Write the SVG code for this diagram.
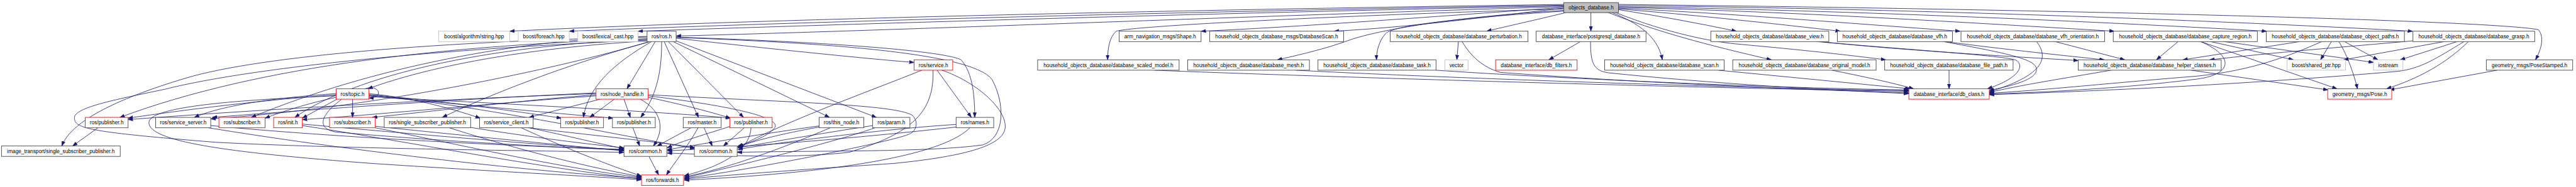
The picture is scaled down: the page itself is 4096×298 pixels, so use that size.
<svg xmlns="http://www.w3.org/2000/svg" width="4096" height="298" viewBox="0 0 4096 298">
<style>
rect{stroke-width:1.5}
.nb rect{fill:#fff;stroke:#404040}
.nr rect{fill:#fff;stroke:#ff0000}
.ng rect{fill:#fff;stroke:#bfbfbf}
.rt rect{fill:#bfbfbf;stroke:#404040}
text{font-family:"Liberation Sans",Arial,Helvetica,sans-serif;font-size:14px;text-anchor:middle;fill:#000}
.e path{fill:none;stroke:#191970;stroke-width:1.4;marker-end:url(#a)}
</style>
<defs>
<marker id="a" markerUnits="userSpaceOnUse" markerWidth="13" markerHeight="10" refX="13" refY="5" orient="auto"><path d="M0,0.5 L13,5 L0,9.5 z" fill="#191970" stroke="#191970" stroke-width="1"/></marker>
</defs>
<rect width="4096" height="298" fill="#fff"/>
<g transform="scale(0.592)">
<g id="edges" class="e">
<path d="M4200,12 C3200,26 2000,52 1369,84"/>
<path d="M4200,14 C3250,30 2150,58 1529,84"/>
<path d="M4200,16 C3300,34 2300,64 1714,84"/>
<path d="M4200,18 C3400,42 2400,82 1816,97"/>
<path d="M4200,20 C3800,48 3500,72 3226,84"/>
<path d="M4200,22 C3950,50 3800,72 3583,84"/>
<path d="M4205,34 C4120,55 4050,70 3993,84"/>
<path d="M4273,34 L4273,84"/>
<path d="M4347,26 C4450,42 4560,62 4664,84"/>
<path d="M4347,24 C4550,40 4750,62 4943,84"/>
<path d="M4347,22 C4650,36 4950,62 5265,84"/>
<path d="M4347,20 C4800,30 5300,62 5679,84"/>
<path d="M4347,18 C5000,28 5700,62 6088,84"/>
<path d="M4347,15 C5200,24 6050,60 6480,84"/>
<path d="M4347,12 C5500,25 6700,55 6818,80 C6835,100 6825,135 6810,161"/>
<path d="M4330,34 C4420,70 4455,110 4465,161"/>
<path d="M4320,34 C4450,85 4580,120 4758,161"/>
<path d="M4340,34 C4480,90 4600,112 4660,118 C4850,135 4980,150 5065,161"/>
<path d="M4200,24 C3700,38 3050,68 2998,84 C2980,100 2975,130 2975,161"/>
<path d="M4200,28 C3900,45 3700,82 3627,107 C3560,132 3480,150 3431,161"/>
<path d="M4200,30 C3900,50 3740,70 3722,90 C3703,110 3697,140 3697,161"/>
<path d="M4245,112 L4160,161"/>
<path d="M4272,112 C4272,170 4280,190 4320,196 C4600,225 4900,242 5127,252"/>
<path d="M3917,112 L3913,161"/>
<path d="M3927,112 C3950,150 3980,180 4030,195 C4400,222 4800,240 5127,250"/>
<path d="M4880,112 C5100,132 5390,150 5415,162 C5440,178 5420,212 5338,239"/>
<path d="M4890,112 C5100,135 5400,152 5582,163"/>
<path d="M5220,112 C5400,145 5470,160 5470,187 C5470,215 5400,232 5343,243"/>
<path d="M5225,112 C5400,135 5550,150 5652,161"/>
<path d="M5470,112 C5500,150 5500,200 5343,247"/>
<path d="M5520,112 L5707,161"/>
<path d="M5235,189 L5235,239"/>
<path d="M5670,189 C5550,210 5420,230 5343,249"/>
<path d="M5885,189 L6253,242"/>
<path d="M5850,112 L5792,161"/>
<path d="M5911,112 C6000,150 6000,200 5900,213 C5700,238 5500,248 5343,253"/>
<path d="M5911,112 L6277,239"/>
<path d="M5937,112 L6160,161"/>
<path d="M5974,112 C6100,130 6250,150 6375,168"/>
<path d="M6177,112 L5863,161"/>
<path d="M6236,112 C6150,150 6050,190 5900,205 C5650,225 5500,242 5343,251"/>
<path d="M6262,112 L6233,161"/>
<path d="M6297,112 L6387,161"/>
<path d="M6282,112 C6300,140 6320,190 6332,239"/>
<path d="M6481,110 C6300,126 6100,142 5935,161"/>
<path d="M6565,112 L6295,161"/>
<path d="M6600,112 L6447,161"/>
<path d="M6618,112 C6540,160 6500,185 6440,192 C6000,230 5600,246 5343,255"/>
<path d="M6630,112 C6570,170 6500,210 6410,239"/>
<path d="M6707,189 L6418,242"/>
<path d="M3100,189 C3500,205 4500,236 5127,246"/>
<path d="M3480,189 C3800,206 4600,236 5127,244"/>
<path d="M3857,189 C4100,206 4700,236 5127,242"/>
<path d="M4615,189 L5130,239"/>
<path d="M4920,189 C5000,205 5080,222 5140,239"/>
<path d="M1738,100 C1200,110 700,150 500,210 C300,270 190,330 166,393"/>
<path d="M1740,104 C1200,122 700,175 322,316"/>
<path d="M1738,98 C1400,105 1000,180 675,316"/>
<path d="M1740,106 C1300,122 950,205 792,316"/>
<path d="M1742,110 C1400,130 1150,180 988,239"/>
<path d="M1745,112 C1500,180 1300,262 1188,316"/>
<path d="M1745,112 C1500,185 1000,292 566,320"/>
<path d="M1750,112 C1650,170 1580,232 1567,316"/>
<path d="M1760,112 L1684,239"/>
<path d="M1777,112 C1778,200 1760,262 1721,316"/>
<path d="M1784,112 L1876,316"/>
<path d="M1795,112 L1997,316"/>
<path d="M1808,112 L2228,316"/>
<path d="M1816,110 L2354,316"/>
<path d="M1816,103 C2100,135 2350,160 2455,168"/>
<path d="M1816,100 C2200,112 2520,135 2580,160 C2615,195 2618,270 2618,316"/>
<path d="M1816,101 C2300,118 2620,150 2665,215 C2700,280 2700,370 2640,390 C2500,410 2200,405 1980,410"/>
<path d="M1738,108 C1000,140 600,200 444,240 C300,270 200,290 200,317 C200,345 230,355 580,383 C900,400 1400,405 1676,410"/>
<path d="M980,239 C1010,228 1025,250 1012,258 C1006,263 998,264 991,264"/>
<path d="M947,267 L947,316"/>
<path d="M905,267 L812,318"/>
<path d="M903,262 C820,280 760,300 712,318"/>
<path d="M903,255 C700,270 500,295 344,318"/>
<path d="M903,252 C750,262 600,282 522,316"/>
<path d="M991,252 C1100,262 1200,288 1290,318"/>
<path d="M991,255 C1200,272 1400,302 1508,318"/>
<path d="M991,258 C1250,282 1500,306 1647,318"/>
<path d="M991,260 C1400,282 1800,302 1962,318"/>
<path d="M918,267 C860,310 850,345 900,355 C1200,382 1500,396 1676,404"/>
<path d="M903,258 C600,270 400,290 400,330 C400,380 600,410 1000,440 C1300,460 1600,475 1723,484"/>
<path d="M991,256 C1300,285 1700,372 1866,400"/>
<path d="M1720,267 C1780,300 1785,350 1755,393"/>
<path d="M1741,258 C2000,290 2100,320 2080,345 C2060,370 2010,385 1982,393"/>
<path d="M1741,262 C1850,285 1920,305 1962,318"/>
<path d="M1612,267 L1421,316"/>
<path d="M1650,267 L1584,316"/>
<path d="M1676,267 L1693,316"/>
<path d="M1601,250 C1200,268 800,298 570,316"/>
<path d="M1601,252 C1100,270 600,302 344,322"/>
<path d="M1601,255 C1400,270 1200,296 1000,316"/>
<path d="M1601,258 C1300,280 1000,310 812,322"/>
<path d="M1741,255 C2100,275 2400,280 2450,310 C2470,330 2460,355 2440,362 C2380,385 2000,460 1838,480"/>
<path d="M263,344 L195,393"/>
<path d="M566,338 C900,370 1400,395 1676,402"/>
<path d="M560,344 C900,400 1400,460 1723,480"/>
<path d="M812,334 C1100,360 1450,390 1676,404"/>
<path d="M812,338 C1100,382 1450,452 1723,482"/>
<path d="M1008,340 C1200,360 1500,390 1676,406"/>
<path d="M1008,344 C1200,382 1500,452 1723,478"/>
<path d="M1264,343 C1400,365 1550,385 1676,398"/>
<path d="M1207,344 C1350,390 1550,445 1723,476"/>
<path d="M1403,340 C1500,360 1600,385 1676,400"/>
<path d="M1400,344 C1500,390 1620,440 1723,474"/>
<path d="M1403,342 C1600,365 1800,386 1866,397"/>
<path d="M1700,344 L1718,393"/>
<path d="M1856,344 L1765,393"/>
<path d="M1891,344 L1913,393"/>
<path d="M1875,344 C1850,390 1810,440 1790,471"/>
<path d="M1962,340 C1900,360 1830,380 1792,398"/>
<path d="M1999,344 L1943,393"/>
<path d="M2017,344 C2015,400 1950,445 1838,473"/>
<path d="M1743,421 L1769,471"/>
<path d="M2200,339 C2050,360 1900,385 1792,403"/>
<path d="M2200,342 C2100,360 2020,380 1982,396"/>
<path d="M2230,344 C2100,400 1950,455 1838,476"/>
<path d="M2344,338 C2200,360 2050,386 1982,398"/>
<path d="M2350,344 C2250,380 2000,442 1838,479"/>
<path d="M2568,335 C2400,345 2100,382 1982,402"/>
<path d="M2568,342 C2300,372 2000,396 1792,406"/>
<path d="M2605,344 C2540,410 2300,462 1838,485"/>
<path d="M2517,189 L2609,316"/>
<path d="M2476,189 C2350,240 2100,330 1984,396"/>
<path d="M2506,189 C2510,300 2450,360 2280,410 C2100,430 1900,415 1792,412"/>
<path d="M2530,189 C2620,220 2700,290 2700,340 C2700,390 2600,420 2400,440 C2100,460 1950,472 1838,482"/>
</g>
<g id="n_root" class="rt"><rect x="4200" y="7" width="147" height="27"/><text x="4273.5" y="25.5">objects_database.h</text></g>
<g id="n_str" class="ng"><rect x="1178" y="84" width="191" height="28"/><text x="1273.5" y="103">boost/algorithm/string.hpp</text></g>
<g id="n_foreach" class="ng"><rect x="1392" y="84" width="137" height="28"/><text x="1460.5" y="103">boost/foreach.hpp</text></g>
<g id="n_lex" class="ng"><rect x="1552" y="84" width="162" height="28"/><text x="1633" y="103">boost/lexical_cast.hpp</text></g>
<g id="n_ros" class="nb"><rect x="1738" y="84" width="78" height="28"/><text x="1777" y="103">ros/ros.h</text></g>
<g id="n_shape" class="nb"><rect x="3006" y="84" width="220" height="28"/><text x="3116" y="103">arm_navigation_msgs/Shape.h</text></g>
<g id="n_dbscanmsg" class="nb"><rect x="3249" y="84" width="360" height="28"/><text x="3429" y="103">household_objects_database_msgs/DatabaseScan.h</text></g>
<g id="n_pert" class="nb"><rect x="3734" y="84" width="370" height="28"/><text x="3919" y="103">household_objects_database/database_perturbation.h</text></g>
<g id="n_pg" class="nb"><rect x="4126" y="84" width="295" height="28"/><text x="4273.5" y="103">database_interface/postgresql_database.h</text></g>
<g id="n_view" class="nb"><rect x="4595" y="84" width="317" height="28"/><text x="4753.5" y="103">household_objects_database/database_view.h</text></g>
<g id="n_vfh" class="nb"><rect x="4935" y="84" width="309" height="28"/><text x="5089.5" y="103">household_objects_database/database_vfh.h</text></g>
<g id="n_vfho" class="nb"><rect x="5267" y="84" width="386" height="28"/><text x="5460" y="103">household_objects_database/database_vfh_orientation.h</text></g>
<g id="n_cap" class="nb"><rect x="5676" y="84" width="387" height="28"/><text x="5869.5" y="103">household_objects_database/database_capture_region.h</text></g>
<g id="n_paths" class="nb"><rect x="6087" y="84" width="371" height="28"/><text x="6272.5" y="103">household_objects_database/database_object_paths.h</text></g>
<g id="n_grasp" class="nb"><rect x="6481" y="84" width="327" height="28"/><text x="6644.5" y="103">household_objects_database/database_grasp.h</text></g>
<g id="n_service" class="nr"><rect x="2455" y="161" width="104" height="28"/><text x="2507" y="180">ros/service.h</text></g>
<g id="n_scaled" class="nb"><rect x="2787" y="161" width="380" height="28"/><text x="2977" y="180">household_objects_database/database_scaled_model.h</text></g>
<g id="n_mesh" class="nb"><rect x="3190" y="161" width="327" height="28"/><text x="3353.5" y="180">household_objects_database/database_mesh.h</text></g>
<g id="n_task" class="nb"><rect x="3540" y="161" width="317" height="28"/><text x="3698.5" y="180">household_objects_database/database_task.h</text></g>
<g id="n_vector" class="ng"><rect x="3881" y="161" width="62" height="28"/><text x="3912" y="180">vector</text></g>
<g id="n_filters" class="nr"><rect x="4017" y="161" width="219" height="28"/><text x="4126.5" y="180">database_interface/db_filters.h</text></g>
<g id="n_scan" class="nb"><rect x="4310" y="161" width="321" height="28"/><text x="4470.5" y="180">household_objects_database/database_scan.h</text></g>
<g id="n_orig" class="nb"><rect x="4654" y="161" width="385" height="28"/><text x="4846.5" y="180">household_objects_database/database_original_model.h</text></g>
<g id="n_fpath" class="nb"><rect x="5062" y="161" width="345" height="28"/><text x="5234.5" y="180">household_objects_database/database_file_path.h</text></g>
<g id="n_helper" class="nb"><rect x="5582" y="161" width="384" height="28"/><text x="5774" y="180">household_objects_database/database_helper_classes.h</text></g>
<g id="n_sptr" class="ng"><rect x="6143" y="161" width="157" height="28"/><text x="6221.5" y="180">boost/shared_ptr.hpp</text></g>
<g id="n_iostream" class="ng"><rect x="6375" y="161" width="79" height="28"/><text x="6414.5" y="180">iostream</text></g>
<g id="n_pstamped" class="nb"><rect x="6678" y="161" width="232" height="28"/><text x="6794" y="180">geometry_msgs/PoseStamped.h</text></g>
<g id="n_topic" class="nr"><rect x="903" y="239" width="88" height="28"/><text x="947" y="258">ros/topic.h</text></g>
<g id="n_nh" class="nr"><rect x="1601" y="239" width="140" height="28"/><text x="1671" y="258">ros/node_handle.h</text></g>
<g id="n_dbclass" class="nr"><rect x="5127" y="239" width="216" height="28"/><text x="5235" y="258">database_interface/db_class.h</text></g>
<g id="n_pose" class="nr"><rect x="6252" y="239" width="172" height="28"/><text x="6338" y="258">geometry_msgs/Pose.h</text></g>
<g id="n_pub1" class="nr"><rect x="229" y="316" width="115" height="28"/><text x="286.5" y="335">ros/publisher.h</text></g>
<g id="n_ssrv" class="nb"><rect x="418" y="316" width="148" height="28"/><text x="492" y="335">ros/service_server.h</text></g>
<g id="n_sub1" class="nr"><rect x="588" y="316" width="124" height="28"/><text x="650" y="335">ros/subscriber.h</text></g>
<g id="n_init" class="nr"><rect x="735" y="316" width="77" height="28"/><text x="773.5" y="335">ros/init.h</text></g>
<g id="n_sub2" class="nr"><rect x="885" y="316" width="123" height="28"/><text x="946.5" y="335">ros/subscriber.h</text></g>
<g id="n_ssp" class="nb"><rect x="1032" y="316" width="232" height="28"/><text x="1148" y="335">ros/single_subscriber_publisher.h</text></g>
<g id="n_sclient" class="nb"><rect x="1288" y="316" width="144" height="28"/><text x="1360" y="335">ros/service_client.h</text></g>
<g id="n_pub2" class="nr"><rect x="1506" y="316" width="115" height="28"/><text x="1563.5" y="335">ros/publisher.h</text></g>
<g id="n_pub3" class="nb"><rect x="1645" y="316" width="115" height="28"/><text x="1702.5" y="335">ros/publisher.h</text></g>
<g id="n_master" class="nb"><rect x="1835" y="316" width="102" height="28"/><text x="1886" y="335">ros/master.h</text></g>
<g id="n_pub4" class="nr"><rect x="1960" y="316" width="114" height="28"/><text x="2017" y="335">ros/publisher.h</text></g>
<g id="n_thisnode" class="nb"><rect x="2200" y="316" width="120" height="28"/><text x="2260" y="335">ros/this_node.h</text></g>
<g id="n_param" class="nb"><rect x="2344" y="316" width="100" height="28"/><text x="2394" y="335">ros/param.h</text></g>
<g id="n_names" class="nb"><rect x="2568" y="316" width="101" height="28"/><text x="2618.5" y="335">ros/names.h</text></g>
<g id="n_its" class="nb"><rect x="4" y="393" width="319" height="28"/><text x="163.5" y="412">image_transport/single_subscriber_publisher.h</text></g>
<g id="n_common1" class="nb"><rect x="1676" y="393" width="115" height="28"/><text x="1733.5" y="412">ros/common.h</text></g>
<g id="n_common2" class="nb"><rect x="1865" y="393" width="115" height="28"/><text x="1922.5" y="412">ros/common.h</text></g>
<g id="n_fwd" class="nr"><rect x="1723" y="471" width="113" height="28"/><text x="1779.5" y="490">ros/forwards.h</text></g>
</g>
</svg>
